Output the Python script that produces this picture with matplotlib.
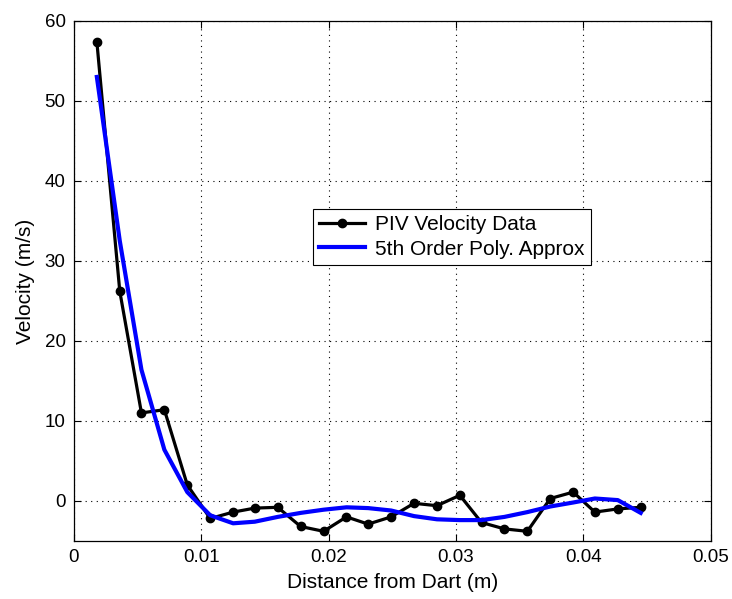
import matplotlib
matplotlib.use("Agg")
import matplotlib.pyplot as plt

plt.rcParams.update({
    "font.family": ["Liberation Sans", "DejaVu Sans"],
    "font.size": 13.5,
    "xtick.direction": "in", "ytick.direction": "in",
    "xtick.top": True, "ytick.right": True,
    "xtick.major.size": 5, "ytick.major.size": 5,
    "xtick.major.pad": 6, "ytick.major.pad": 6,
    "axes.linewidth": 0.9,
})

# distance from dart (m)
dist = [0.0018, 0.0036, 0.0053, 0.0071, 0.0089, 0.0107, 0.0125, 0.0142, 0.0160,
        0.0178, 0.0196, 0.0214, 0.0231, 0.0249, 0.0267, 0.0285, 0.0303, 0.0320,
        0.0338, 0.0356, 0.0374, 0.0392, 0.0409, 0.0427, 0.0445]
# PIV measured velocity (m/s)
piv = [57.4, 26.2, 11.0, 11.4, 2.0, -2.2, -1.4, -0.9, -0.8,
       -3.2, -3.8, -2.0, -2.9, -2.0, -0.3, -0.6, 0.7, -2.7,
       -3.5, -3.8, 0.3, 1.1, -1.4, -1.0, -0.8]
# 5th order polynomial approximation, read at same points
poly = [53.0, 32.5, 16.4, 6.4, 1.1, -1.8, -2.8, -2.6, -2.0,
        -1.5, -1.1, -0.8, -0.9, -1.2, -1.9, -2.3, -2.4, -2.4,
        -2.0, -1.4, -0.7, -0.2, 0.3, 0.1, -1.5]

fig = plt.figure(figsize=(7.32, 5.99), dpi=100)
ax = fig.add_axes([0.101, 0.097, 0.870, 0.868])

ax.plot(dist, piv, color="black", lw=2.3, marker="o", ms=6, label="PIV Velocity Data", zorder=3)
ax.plot(dist, poly, color="#0000ff", lw=3, label="5th Order Poly. Approx", zorder=4)

ax.set_xlim(0, 0.05); ax.set_ylim(-5, 60)
ax.set_xticks([0, 0.01, 0.02, 0.03, 0.04, 0.05])
ax.set_xticklabels(["0", "0.01", "0.02", "0.03", "0.04", "0.05"])
ax.set_yticks(range(0, 70, 10))
ax.grid(True, color="black", ls=(0, (1, 4)), lw=0.8)
ax.set_xlabel("Distance from Dart (m)", fontsize=15, labelpad=5)
ax.set_ylabel("Velocity (m/s)", fontsize=15, labelpad=7)

leg = ax.legend(loc="upper left", bbox_to_anchor=(0.375, 0.638), borderaxespad=0,
                fancybox=False, framealpha=1, edgecolor="black", fontsize=15,
                handlelength=2.2, borderpad=0.3, labelspacing=0.25, handletextpad=0.5)
leg.get_frame().set_linewidth(0.8)

fig.savefig("out.png", dpi=100, facecolor="white")
